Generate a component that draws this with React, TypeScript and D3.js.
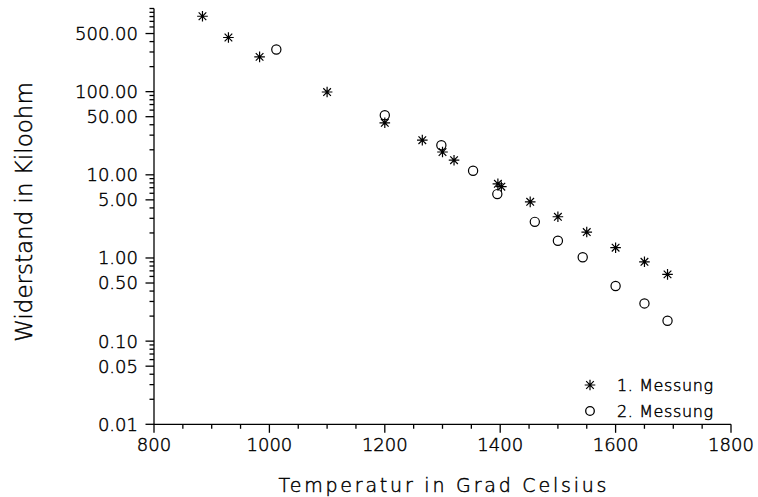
import React from "react";
import * as d3 from "d3";

// ---- data ----
const series1Temp = [884, 929, 983, 1100, 1200, 1265, 1300, 1320, 1396, 1402, 1452, 1500, 1550, 1600, 1650, 1690];
const series1Res = [807, 448, 262, 99, 42.2, 26.1, 18.8, 15.0, 7.8, 7.2, 4.73, 3.13, 2.05, 1.33, 0.9, 0.635];
const series2Temp = [1012, 1200, 1298, 1353, 1395, 1460, 1500, 1543, 1600, 1650, 1690];
const series2Res = [321, 52, 22.7, 11.2, 5.86, 2.72, 1.61, 1.02, 0.46, 0.284, 0.176];

const xMajorTicks = [800, 1000, 1200, 1400, 1600, 1800];
const xMinorStep = 50;
const yLabelTicks = [0.01, 0.05, 0.1, 0.5, 1, 5, 10, 50, 100, 500];
const yLabelTexts = ["0.01", "0.05", "0.10", "0.50", "1.00", "5.00", "10.00", "50.00", "100.00", "500.00"];
const legendLabels = ["1. Messung", "2. Messung"];
const xTitle = "Temperatur in Grad Celsius";
const yTitle = "Widerstand in Kiloohm";

const W = 758;
const H = 497;
const left = 154;
const right = 731;
const top = 8.5;
const bottom = 424.3;

const FONT = "'DejaVu Sans', sans-serif";
const FW = 200;

function starPath(s: number) {
  const d = s * 0.72;
  return `M0,${-s}L0,${s}M${-s},0L${s},0M${-d},${-d}L${d},${d}M${-d},${d}L${d},${-d}`;
}

export default function App() {
  const x = d3.scaleLinear().domain([800, 1800]).range([left, right]);
  const y = d3.scaleLog().domain([0.01, 1000]).range([bottom, top]);

  const xMinor = d3.range(800, 1800 + 1, xMinorStep).filter((v) => !xMajorTicks.includes(v));
  const yMinor = y.ticks().filter((v) => !yLabelTicks.some((t) => Math.abs(t - v) / t < 1e-6));

  const star = starPath(5.3);

  return (
    <svg
      width={W}
      height={H}
      style={{ position: "absolute", left: 0, top: 0, background: "#fff" }}
      fontFamily={FONT}
      fontWeight={FW}
    >
      <rect x={0} y={0} width={W} height={H} fill="#fff" />
      {/* axes */}
      <g stroke="#000" strokeWidth={1.3} fill="none">
        <line x1={left} x2={left} y1={top} y2={bottom} />
        <line x1={left} x2={right} y1={bottom} y2={bottom} />
        {xMajorTicks.map((t) => (
          <line key={"xM" + t} x1={x(t)} x2={x(t)} y1={bottom} y2={bottom + 8.5} />
        ))}
        {xMinor.map((t) => (
          <line key={"xm" + t} x1={x(t)} x2={x(t)} y1={bottom} y2={bottom + 4.5} />
        ))}
        {yLabelTicks.map((t) => (
          <line key={"yM" + t} x1={left - 8.5} x2={left} y1={y(t)} y2={y(t)} />
        ))}
        {yMinor.map((t) => (
          <line key={"ym" + t} x1={left - 4.5} x2={left} y1={y(t)} y2={y(t)} />
        ))}
      </g>
      {/* text */}
      <g fill="#000" stroke="#000" strokeWidth={0.45}>
        <g fontSize={18}>
          {xMajorTicks.map((t) => (
            <text key={"xl" + t} x={x(t)} y={451} textAnchor="middle">
              {t}
            </text>
          ))}
          {yLabelTicks.map((t, i) => (
            <text key={"yl" + t} x={left - 16} y={y(t)} dy="0.36em" textAnchor="end">
              {yLabelTexts[i]}
            </text>
          ))}
        </g>
        <text x={(left + right) / 2} y={492} textAnchor="middle" fontSize={19} textLength={328} lengthAdjust="spacing">
          {xTitle}
        </text>
        <text transform={`translate(32,212) rotate(-90)`} textAnchor="middle" fontSize={23}>
          {yTitle}
        </text>
        <text x={617} y={385} dy="0.36em" fontSize={16} textLength={96} lengthAdjust="spacing">{legendLabels[0]}</text>
        <text x={617} y={411} dy="0.36em" fontSize={16} textLength={96} lengthAdjust="spacing">{legendLabels[1]}</text>
      </g>
      {/* points */}
      <g stroke="#000" strokeWidth={1.2} fill="none">
        {series1Temp.map((t, i) => (
          <path key={"s1" + i} d={star} transform={`translate(${x(t)},${y(series1Res[i])})`} />
        ))}
        {series2Temp.map((t, i) => (
          <circle key={"s2" + i} cx={x(t)} cy={y(series2Res[i])} r={4.6} />
        ))}
      </g>
      {/* legend symbols */}
      <path d={star} transform="translate(590,385)" stroke="#000" strokeWidth={1.2} fill="none" />
      <circle cx={590} cy={411} r={4.3} stroke="#000" strokeWidth={1.3} fill="none" />
    </svg>
  );
}
